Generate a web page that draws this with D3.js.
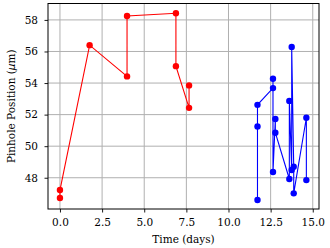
<!DOCTYPE html>
<html><head><meta charset="utf-8">
<script src="https://cdn.jsdelivr.net/npm/d3@7"></script>
<style>
html,body{margin:0;padding:0;background:#fff;}
svg{display:block;}
text{font-family:"DejaVu Serif",serif;fill:#000;}
</style></head>
<body>
<svg id="c" width="330" height="248"></svg>
<script>
// Data (time in days, pinhole position in µm)
const redTime = [0.0, 0.0, 1.76, 3.98, 3.98, 6.88, 6.88, 7.66, 7.66];
const redPos  = [46.72, 47.22, 56.4, 54.42, 58.25, 58.42, 55.07, 52.43, 53.85];
const blueTime = [11.72, 11.72, 11.72, 12.64, 12.64, 12.64, 12.78, 12.78, 13.61, 13.61, 13.75, 13.75, 13.87, 13.87, 14.62, 14.62];
const bluePos  = [46.59, 51.25, 52.62, 53.68, 54.27, 48.36, 51.72, 50.85, 47.92, 52.87, 48.49, 56.29, 48.7, 47.01, 51.8, 47.85];
const xTicks = [0, 2.5, 5, 7.5, 10, 12.5, 15];
const yTicks = [48, 50, 52, 54, 56, 58];

const svg = d3.select("#c");
const L = 48, R = 319, T = 3.5, B = 209;
const x = d3.scaleLinear().domain([-0.71, 15.37]).range([L, R]);
const y = d3.scaleLinear().domain([46.02, 59.04]).range([B, T]);

// grid
const g = svg.append("g");
g.selectAll(".gx").data(xTicks).enter().append("line")
  .attr("x1", d => x(d)).attr("x2", d => x(d)).attr("y1", T).attr("y2", B)
  .attr("stroke", "#b0b0b0").attr("stroke-width", 1);
g.selectAll(".gy").data(yTicks).enter().append("line")
  .attr("y1", d => y(d)).attr("y2", d => y(d)).attr("x1", L).attr("x2", R)
  .attr("stroke", "#b0b0b0").attr("stroke-width", 1);

function series(tx, py, color) {
  const pts = tx.map((t, i) => [t, py[i]]);
  svg.append("path").datum(pts)
    .attr("d", d3.line().x(d => x(d[0])).y(d => y(d[1])))
    .attr("fill", "none").attr("stroke", color).attr("stroke-width", 1.1);
  svg.selectAll(null).data(pts).enter().append("circle")
    .attr("cx", d => x(d[0])).attr("cy", d => y(d[1])).attr("r", 3.2)
    .attr("fill", color);
}
series(redTime, redPos, "#ff0000");
series(blueTime, bluePos, "#0000ff");

// axes
const xAxis = d3.axisBottom(x).tickValues(xTicks).tickFormat(d3.format(".1f")).tickSize(3.5).tickSizeOuter(0).tickPadding(6.5);
const yAxis = d3.axisLeft(y).tickValues(yTicks).tickFormat(d3.format("d")).tickSize(3.5).tickSizeOuter(0).tickPadding(6.5);
const xa = svg.append("g").attr("transform", `translate(0,${B})`).call(xAxis);
const ya = svg.append("g").attr("transform", `translate(${L},0)`).call(yAxis);
[xa, ya].forEach(a => {
  a.attr("font-family", null).attr("font-size", null);
  a.select(".domain").remove();
  a.selectAll("text").style("font-family", "DejaVu Serif").style("font-size", "10.5px");
  a.selectAll("line").attr("stroke", "#000").attr("stroke-width", 0.9);
});

// frame
svg.append("rect").attr("x", L).attr("y", T).attr("width", R - L).attr("height", B - T)
  .attr("fill", "none").attr("stroke", "#000").attr("stroke-width", 1);

// labels
svg.append("text").attr("x", (L + R) / 2).attr("y", 242.5).attr("text-anchor", "middle")
  .style("font-size", "10.5px").text("Time (days)");
const yl = svg.append("text").attr("transform", `translate(15,${(T + B) / 2}) rotate(-90)`)
  .attr("text-anchor", "middle").style("font-size", "10.5px");
yl.append("tspan").text("Pinhole Position (");
yl.append("tspan").style("font-style", "italic").style("font-family", "DejaVu Sans").text("μ");
yl.append("tspan").text("m)");
</script>
</body></html>
